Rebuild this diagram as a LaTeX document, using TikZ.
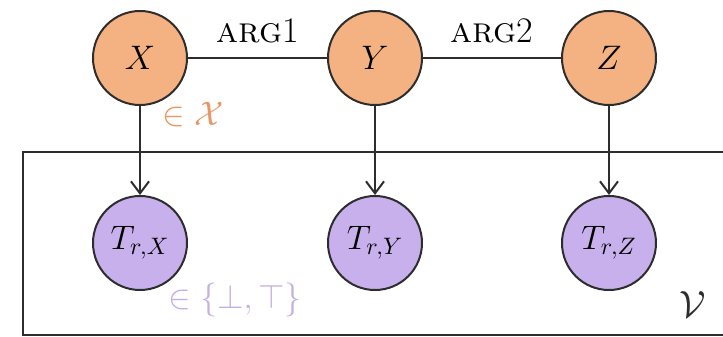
\RequirePackage{fix-cm}
\documentclass[tikz,border=0pt]{standalone}
\usetikzlibrary{arrows.meta}
\definecolor{orangefill}{RGB}{244,178,130}
\definecolor{purplefill}{RGB}{200,176,236}
\definecolor{orangetext}{RGB}{232,150,100}
\definecolor{purpletext}{RGB}{195,175,225}
\definecolor{linegray}{RGB}{45,45,45}
\begin{document}
\begin{tikzpicture}[x=0.5pt,y=-0.5pt,
  var/.style={circle,draw=linegray,line width=1pt,minimum size=47pt,inner sep=0pt,font=\fontsize{17}{20}\selectfont},
  entity/.style={var,fill=orangefill},
  truth/.style={var,fill=purplefill},
  edge/.style={draw=linegray,line width=1pt},
  arrowedge/.style={edge,-{Straight Barb[length=6pt,width=9pt,line width=1pt]}},
  lbl/.style={font=\fontsize{17}{20}\selectfont,inner sep=0pt},
  rel/.style={lbl,font=\fontsize{18}{21}\selectfont,above=7pt}]
\useasboundingbox (0,0) rectangle (723,337);
\draw[draw=linegray,line width=1pt] (23,152) rectangle (760,335);
\node[entity] (X) at (140,58) {$X$};
\node[entity] (Y) at (375,58) {$Y$};
\node[entity] (Z) at (609,58) {$Z$};
\node[truth] (TX) at (140,243) {$T_{r,X}$};
\node[truth] (TY) at (375,243) {$T_{r,Y}$};
\node[truth] (TZ) at (609,243) {$T_{r,Z}$};
\draw[edge] (X) -- node[rel] {\textsc{arg}1} (Y);
\draw[edge] (Y) -- node[rel] {\textsc{arg}2} (Z);
\draw[arrowedge] (X) -- (TX);
\draw[arrowedge] (Y) -- (TY);
\draw[arrowedge] (Z) -- (TZ);
\node[lbl,text=orangetext] (inX) at (193,115) {$\in\mathcal{X}$};
\node[lbl,text=purpletext] (inB) at (235,300) {$\in\{\bot,\top\}$};
\node[lbl,font=\fontsize{19}{23}\selectfont,text=linegray] (V) at (693,305) {$\mathcal{V}$};
\end{tikzpicture}
\end{document}
